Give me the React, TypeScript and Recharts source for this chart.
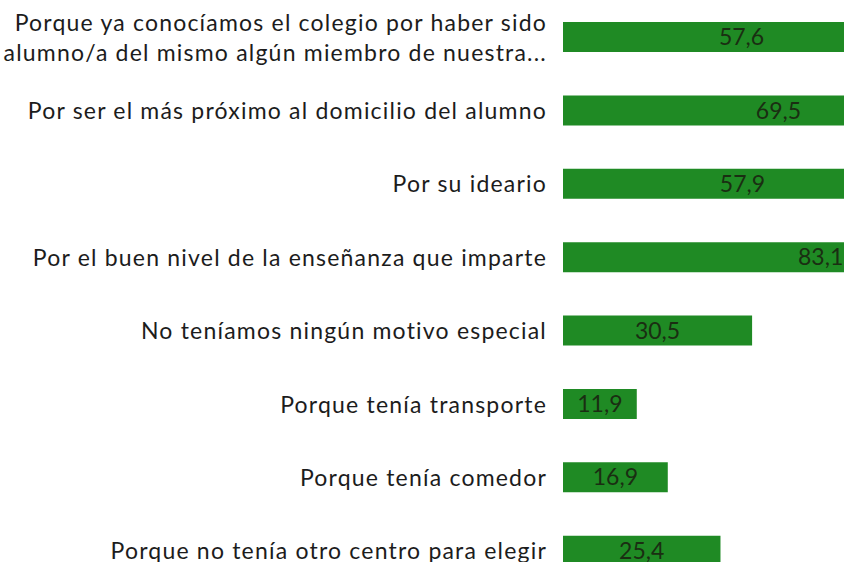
import React from 'react';
import { BarChart, Bar, XAxis, YAxis, LabelList } from 'recharts';

// motivos de elección del centro (%)
const motivos = [
  'Porque ya conocíamos el colegio por haber sido\nalumno/a del mismo algún miembro de nuestra...',
  'Por ser el más próximo al domicilio del alumno',
  'Por su ideario',
  'Por el buen nivel de la enseñanza que imparte',
  'No teníamos ningún motivo especial',
  'Porque tenía transporte',
  'Porque tenía comedor',
  'Porque no tenía otro centro para elegir',
];
const porcentajes = [57.6, 69.5, 57.9, 83.1, 30.5, 11.9, 16.9, 25.4];

const data = motivos.map((m, i) => ({ motivo: m, valor: porcentajes[i] }));

const FONT = 'Lato, "Open Sans", sans-serif';

const MotivoTick = (props: any) => {
  const { x, y, payload } = props;
  const lines = String(payload.value).split('\n');
  const lh = 30;
  const start = y - ((lines.length - 1) * lh) / 2;
  return (
    <text
      x={x}
      y={start}
      textAnchor="end"
      fontFamily={FONT}
      fontSize={23}
      letterSpacing={1.2}
      fill="#1c1c1c"
      dominantBaseline="central"
    >
      {lines.map((l, i) => (
        <tspan key={i} x={x} y={start + i * lh}>{l}</tspan>
      ))}
    </text>
  );
};

export default function App() {
  return (
    <div style={{ position: 'absolute', left: 0, top: 0, width: 844, height: 562, overflow: 'hidden', background: '#fff' }}>
      <BarChart
        width={1183}
        height={587}
        data={data}
        layout="vertical"
        margin={{ top: 0, right: 0, bottom: 0, left: 0 }}
        barSize={30}
      >
        <XAxis type="number" domain={[0, 100]} hide />
        <YAxis
          type="category"
          dataKey="motivo"
          width={563}
          axisLine={false}
          tickLine={false}
          tick={(p: any) => <MotivoTick {...p} x={547} />}
          interval={0}
        />
        <Bar dataKey="valor" fill="#1f8a24" isAnimationActive={false}>
          <LabelList
            dataKey="valor"
            position="center"
            formatter={(v: any) => Number(v).toFixed(1).replace('.', ',')}
            style={{ fontFamily: FONT, fontSize: 23, fill: '#1a2e12' }}
          />
        </Bar>
      </BarChart>
    </div>
  );
}
